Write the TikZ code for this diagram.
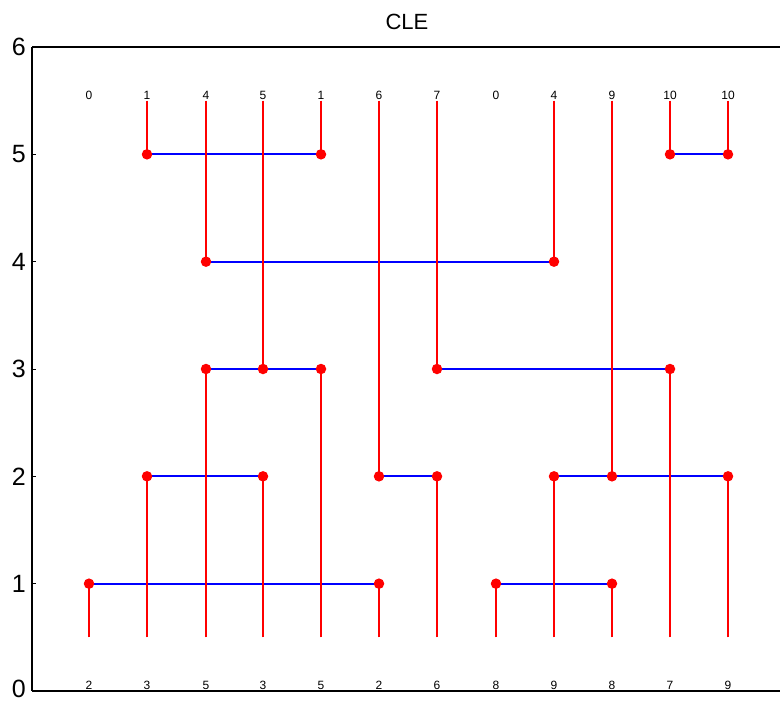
\documentclass[tikz,border=0pt]{standalone}
\usepackage{fontspec}
\setmainfont{Liberation Sans}
\begin{document}
\begin{tikzpicture}[x=1pt,y=1pt,
  vline/.style={draw=red, line width=1.6pt},
  hline/.style={draw=blue, line width=1.8pt},
  dot/.style={circle, fill=red, inner sep=0pt, minimum size=10.5pt},
  small/.style={font=\fontsize{12}{12}\selectfont, inner sep=0pt},
  ticklab/.style={font=\fontsize{25}{25}\selectfont, anchor=east, inner sep=0pt},
  spine/.style={draw=black, line width=2.6pt},
  tickmark/.style={draw=black, line width=0.6pt}]
\useasboundingbox (0,0) rectangle (780,701);
% axes
\coordinate (o) at (32,10);
\coordinate (ytop) at (32,654);
\coordinate (xr) at (780,10);
\coordinate (tr) at (780,654);
\draw[spine] (ytop) -- (o);
\draw[spine] (ytop) -- (tr);
\draw[spine] (o) -- (xr);
\foreach \v in {0,...,6}{
  \coordinate (tk\v) at (32,{10+107.33*\v});
  \draw[tickmark] (tk\v) -- ++(4,0);
}
\foreach \v in {1,...,6}
  \node[ticklab] (yl\v) at (26,{10+107.33*\v}) {\v};
\node[ticklab] (yl0) at (26,12) {0};
\node[font=\fontsize{22}{22}\selectfont] (title) at (407,679) {CLE};
% column labels
\foreach \xx/\lab [count=\n from 0] in {89/0,147/1,206/4,263/5,321/1,379/6,437/7,496/0,554/4,612/9,670/10,728/10}
  \node[small] (tl\n) at (\xx,606) {\lab};
\foreach \xx/\lab [count=\n from 0] in {89/2,147/3,206/5,263/3,321/5,379/2,437/6,496/8,554/9,612/8,670/7,728/9}
  \node[small] (bl\n) at (\xx,16) {\lab};
% end points (levels: y = 10 + 107.33 * level)
\coordinate (t1) at (147,546.65);  \coordinate (tt1) at (147,600.3);
\coordinate (t2) at (206,439.32);  \coordinate (tt2) at (206,600.3);
\coordinate (t3) at (263,331.99);  \coordinate (tt3) at (263,600.3);
\coordinate (t4) at (321,546.65);  \coordinate (tt4) at (321,600.3);
\coordinate (t5) at (379,224.66);  \coordinate (tt5) at (379,600.3);
\coordinate (t6) at (437,331.99);  \coordinate (tt6) at (437,600.3);
\coordinate (t8) at (554,439.32);  \coordinate (tt8) at (554,600.3);
\coordinate (t9) at (612,224.66);  \coordinate (tt9) at (612,600.3);
\coordinate (t10) at (670,546.65); \coordinate (tt10) at (670,600.3);
\coordinate (t11) at (728,546.65); \coordinate (tt11) at (728,600.3);
\coordinate (b0) at (89,117.33);   \coordinate (bb0) at (89,63.67);
\coordinate (b1) at (147,224.66);  \coordinate (bb1) at (147,63.67);
\coordinate (b2) at (206,331.99);  \coordinate (bb2) at (206,63.67);
\coordinate (b3) at (263,224.66);  \coordinate (bb3) at (263,63.67);
\coordinate (b4) at (321,331.99);  \coordinate (bb4) at (321,63.67);
\coordinate (b5) at (379,117.33);  \coordinate (bb5) at (379,63.67);
\coordinate (b6) at (437,224.66);  \coordinate (bb6) at (437,63.67);
\coordinate (b7) at (496,117.33);  \coordinate (bb7) at (496,63.67);
\coordinate (b8) at (554,224.66);  \coordinate (bb8) at (554,63.67);
\coordinate (b9) at (612,117.33);  \coordinate (bb9) at (612,63.67);
\coordinate (b10) at (670,331.99); \coordinate (bb10) at (670,63.67);
\coordinate (b11) at (728,224.66); \coordinate (bb11) at (728,63.67);
% horizontal links
\draw[hline] (t1) -- (t4);
\draw[hline] (t10) -- (t11);
\draw[hline] (t2) -- (t8);
\draw[hline] (b2) -- (b4);
\draw[hline] (t6) -- (b10);
\draw[hline] (b1) -- (b3);
\draw[hline] (t5) -- (b6);
\draw[hline] (b8) -- (b11);
\draw[hline] (b0) -- (b5);
\draw[hline] (b7) -- (b9);
% vertical lines
\draw[vline] (tt1) -- (t1);
\draw[vline] (tt2) -- (t2);
\draw[vline] (tt3) -- (t3);
\draw[vline] (tt4) -- (t4);
\draw[vline] (tt5) -- (t5);
\draw[vline] (tt6) -- (t6);
\draw[vline] (tt8) -- (t8);
\draw[vline] (tt9) -- (t9);
\draw[vline] (tt10) -- (t10);
\draw[vline] (tt11) -- (t11);
\draw[vline] (bb0) -- (b0);
\draw[vline] (bb1) -- (b1);
\draw[vline] (bb2) -- (b2);
\draw[vline] (bb3) -- (b3);
\draw[vline] (bb4) -- (b4);
\draw[vline] (bb5) -- (b5);
\draw[vline] (bb6) -- (b6);
\draw[vline] (bb7) -- (b7);
\draw[vline] (bb8) -- (b8);
\draw[vline] (bb9) -- (b9);
\draw[vline] (bb10) -- (b10);
\draw[vline] (bb11) -- (b11);
% dots
\foreach \i in {1,2,3,4,5,6,8,9,10,11}
  \node[dot] (dt\i) at (t\i) {};
\foreach \i in {0,...,11}
  \node[dot] (db\i) at (b\i) {};
\end{tikzpicture}
\end{document}
